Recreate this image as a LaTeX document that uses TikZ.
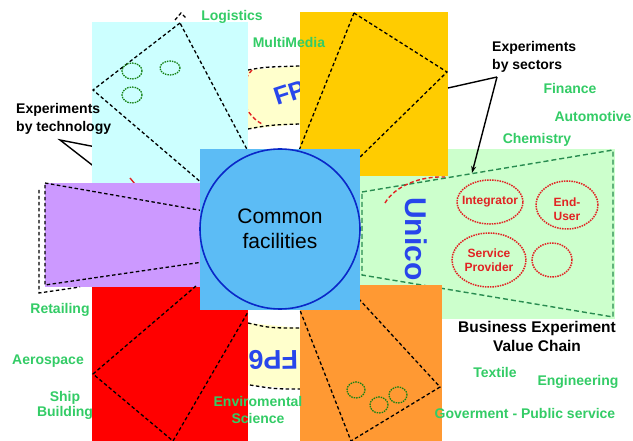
\documentclass[tikz,border=0pt]{standalone}
\usepackage{fontspec}
\setmainfont{Liberation Sans}
\usetikzlibrary{arrows.meta}
\definecolor{cyanbox}{RGB}{204,255,255}
\definecolor{goldbox}{RGB}{255,204,0}
\definecolor{purplebox}{RGB}{204,153,255}
\definecolor{redbox}{RGB}{255,0,0}
\definecolor{orangebox}{RGB}{255,153,51}
\definecolor{greenbox}{RGB}{204,255,204}
\definecolor{bluebox}{RGB}{92,188,245}
\definecolor{creambox}{RGB}{255,255,204}
\definecolor{labelgreen}{RGB}{51,204,102}
\definecolor{dkgreen}{RGB}{40,140,80}
\definecolor{dotgreen}{RGB}{20,130,20}
\definecolor{ringblue}{RGB}{40,70,235}
\definecolor{circblue}{RGB}{10,40,200}
\definecolor{redline}{RGB}{225,35,35}
\begin{document}
\begin{tikzpicture}[x=1pt,y=-1pt,
  sectorline/.style={black, dash pattern=on 3.5pt off 2.5pt, line width=1.3pt},
  greenline/.style={dkgreen, dash pattern=on 5pt off 3pt, line width=1.4pt},
  smallring/.style={dotgreen, dash pattern=on 1.5pt off 1pt, line width=1.3pt},
  roleoval/.style={redline, dash pattern=on 1.5pt off 1pt, line width=1.5pt},
  redarc/.style={redline, dash pattern=on 4pt off 2.5pt, line width=1.4pt},
  sector/.style={labelgreen, font=\bfseries\fontsize{14}{16}\selectfont, inner sep=0pt},
  blacklabel/.style={black, font=\bfseries\fontsize{14}{18}\selectfont, align=left, inner sep=0pt},
  roletext/.style={redline, font=\bfseries\fontsize{12}{14}\selectfont, align=center, inner sep=0pt},
  ringtext/.style={ringblue, inner sep=0pt}
]
\useasboundingbox (0,0) rectangle (633,441);
\fill[white] (0,0) rectangle (633,441);

% pointer lines of "Experiments by technology" (under the cyan block)
\coordinate (techtip) at (60,140);
\coordinate (techA) at (96,147);
\coordinate (techB) at (96,168);
\draw[black, line width=1.4pt] (techA) -- (techtip) -- (techB);

% cream ring pieces
\fill[creambox] (248,70) -- (300,66) -- (300,124) -- (248,129) -- cycle;
\draw[sectorline] (248,70) .. controls (265,67) .. (300,66);
\draw[sectorline] (248,129) .. controls (270,125) .. (300,124);
\draw[redarc] (252,70) .. controls (238,85) and (240,112) .. (262,124);
\node[ringtext, anchor=base west, rotate=18, font=\bfseries\fontsize{25}{25}\selectfont] (fptop) at (277,106) {FP6};

\fill[creambox] (248,323) -- (300,328) -- (300,389) -- (248,385) -- cycle;
\draw[sectorline] (248,323) .. controls (270,328) .. (300,328);
\draw[sectorline] (250,385) .. controls (275,389) .. (300,389);
\node[ringtext, anchor=base west, rotate=181, font=\bfseries\fontsize{27}{27}\selectfont] (fpbot) at (298,350) {FP6};

% cyan block
\fill[cyanbox] (92,22) rectangle (248,183);
\draw[sectorline] (180,23) -- (93,90) -- (210,190) -- (250,155) -- cycle;
\draw[sectorline] (175,20) -- (181,13) -- (187,19);
\draw[smallring] (132,71) ellipse [x radius=10pt, y radius=8pt];
\draw[smallring] (170,68) ellipse [x radius=10pt, y radius=7pt];
\draw[smallring] (132,95) ellipse [x radius=10pt, y radius=8pt];
\draw[redline, line width=1.4pt] (130,178) -- (135,184);

% purple block
\fill[purplebox] (45,183) rectangle (205,287);
\draw[sectorline] (45,183) -- (210,212) -- (210,261) -- (45,285) -- cycle;
\draw[sectorline] (39,190) -- (39,293) -- (80,287);

% red block
\fill[redbox] (92,287) rectangle (248,441);
\draw[sectorline] (196,286) -- (93,374) -- (173,441) -- (248,312);

% green block
\fill[greenbox] (360,149) rectangle (615,319);
\draw[greenline] (362,192) -- (613,150) -- (613,317) -- (362,275) -- cycle;
\draw[redarc] (385,203) .. controls (395,186) and (420,176) .. (445,177);
\node[ringtext, anchor=base west, rotate=-90, font=\bfseries\fontsize{30}{30}\selectfont] (unico) at (405,197) {Unico};
\draw[roleoval] (490,202) ellipse [x radius=33pt, y radius=22pt];
\node[roletext] (integ) at (490,202) {Integrator};
\draw[roleoval] (567,205) ellipse [x radius=31pt, y radius=24pt];
\node[roletext] (enduser) at (567,209) {End-\\User};
\draw[roleoval] (489,260) ellipse [x radius=37pt, y radius=27pt];
\node[roletext] (sprov) at (489,260) {Service\\Provider};
\draw[roleoval] (552,260) ellipse [x radius=20pt, y radius=17pt];

% gold block
\fill[goldbox] (300,12) rectangle (448,176);
\draw[sectorline] (354,13) -- (447,72) -- (355,162) -- (298,153) -- cycle;

% orange block
\fill[orangebox] (300,285) rectangle (442,441);
\draw[sectorline] (296,300) -- (351,441) -- (440,387) -- (358,298);
\draw[smallring] (356,390) ellipse [x radius=9pt, y radius=8pt];
\draw[smallring] (379,405) ellipse [x radius=9pt, y radius=8pt];
\draw[smallring] (398,395) ellipse [x radius=9pt, y radius=8pt];

% common facilities
\fill[bluebox] (200,149) rectangle (360,310);
\draw[circblue, line width=1.6pt] (280,229) circle [radius=80pt];
\node[align=center, font=\fontsize{21}{25}\selectfont, inner sep=0pt] (common) at (280,229) {Common\\facilities};

% sector labels
\node[sector] (logistics) at (232,17) {Logistics};
\node[sector] (multimedia) at (289,42) {MultiMedia};
\node[sector] (finance) at (570,88) {Finance};
\node[sector] (automotive) at (593,116) {Automotive};
\node[sector] (chemistry) at (537,140) {Chemistry};
\node[sector] (retailing) at (60,310) {Retailing};
\node[sector] (aerospace) at (48,361) {Aerospace};
\node[sector, align=center, font=\bfseries\fontsize{14}{15}\selectfont] (ship) at (65,405) {Ship\\Building};
\node[sector, align=center, font=\bfseries\fontsize{14}{17}\selectfont] (enviro) at (258,410) {Enviromental\\Science};
\node[sector] (textile) at (495,372) {Textile};
\node[sector] (engineering) at (578,382) {Engineering};
\node[sector] (gov) at (525,413) {Goverment - Public service};

% black labels
\node[blacklabel, anchor=west] (bytech) at (16,119) {Experiments\\by technology};
\node[blacklabel, anchor=west] (bysect) at (492,57) {Experiments\\by sectors};
\node[blacklabel, align=center, font=\bfseries\fontsize{15.5}{19}\selectfont] (bizexp) at (537,336) {Business Experiment\\Value Chain};

% pointers of "Experiments by sectors"
\coordinate (secttip) at (497,77);
\coordinate (sectgold) at (448,88);
\coordinate (secttrap) at (472,173);
\draw[black, line width=1.4pt] (sectgold) -- (secttip);
\draw[black, line width=1.4pt, -{Stealth[length=7pt,width=5pt]}] (secttip) -- (secttrap);
\end{tikzpicture}
\end{document}
